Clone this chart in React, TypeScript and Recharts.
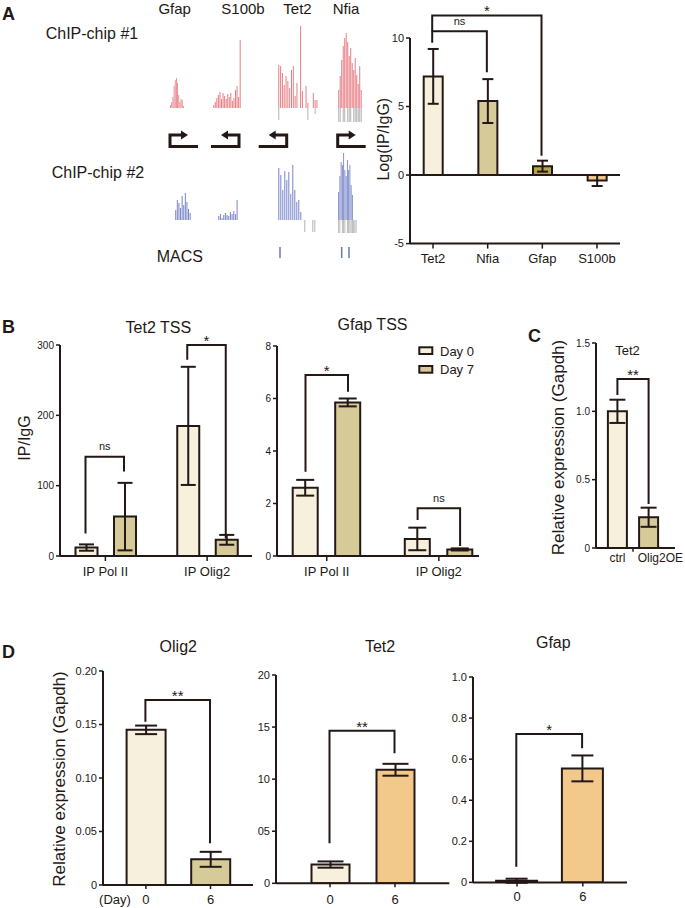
import React from "react";
import { BarChart, Bar, XAxis, YAxis, Cell, ErrorBar, ReferenceLine } from "recharts";

// ---- A: ChIP-chip enrichment ----
const chipGenes = ["Tet2", "Nfia", "Gfap", "S100b"];
const chipLogRatio = [7.2, 5.4, 0.65, -0.4];
const chipLogRatioErr = [2.0, 1.6, 0.4, 0.4];

// probe signal tracks (height units), grey = below-baseline probes
const chip1Gfap = [3, 6, 11, 22, 28, 30, 25, 13, 6, 9, 8, 2];
const chip1S100b = [3, 6, 10, 13, 16, 9, 15, 12, 9, 14, 11, 15, 7, 10, 18, 22, 11, 68];
const chip1Tet2 = [43, 42, 35, 23, 32, 27, 20, 38, 42, 12, 25, 0, 82, 17, 0, 22, 5, 0, 0, 15, 8, 8];
const chip1Tet2Grey = [12, 0, 0, 0, 0, 0, 0, 0, 0, 0, 0, 0, 0, 0, 0, 0, 12, 0, 0, 0, 6, 0];
const chip1Nfia = [18, 32, 48, 62, 70, 75, 66, 52, 60, 45, 38, 50, 33, 24, 42, 18];
const chip1NfiaGrey = [14, 14, 0, 14, 14, 0, 14, 14, 14, 0, 14, 14, 14, 14, 14, 14];
const chip2Gfap = [10, 20, 17, 12, 24, 15, 27, 18, 11, 7];
const chip2S100b = [4, 6, 2, 5, 7, 5, 4, 8, 6, 9, 6, 20];
const chip2Tet2 = [52, 45, 30, 49, 40, 48, 26, 55, 30, 18, 20, 8, 0, 0, 0, 0, 0, 0, 0, 0];
const chip2Tet2Grey = [0, 0, 0, 0, 0, 0, 0, 0, 0, 0, 0, 0, 0, 12, 0, 0, 0, 12, 12, 0];
const chip2Nfia = [28, 44, 58, 55, 67, 50, 44, 60, 50, 55, 35, 25, 0, 0, 0, 0];
const chip2NfiaGrey = [13, 13, 0, 13, 13, 13, 0, 13, 13, 13, 13, 13, 13, 13, 13, 0];

// ---- B: ChIP-qPCR ----
const tssSites = ["IP Pol II", "IP Olig2"];
const tet2TssDay0 = [12, 185];
const tet2TssDay0Err = [4.5, 84];
const tet2TssDay7 = [56, 23];
const tet2TssDay7Err = [48, 7];
const gfapTssDay0 = [2.6, 0.65];
const gfapTssDay0Err = [0.3, 0.43];
const gfapTssDay7 = [5.85, 0.25];
const gfapTssDay7Err = [0.15, 0.04];

// ---- C: Olig2 overexpression ----
const oeGroups = ["ctrl", "Olig2OE"];
const oeTet2 = [1.0, 0.225];
const oeTet2Err = [0.085, 0.07];

// ---- D: differentiation time course ----
const dayLabels = ["0", "6"];
const olig2Expr = [0.145, 0.024];
const olig2ExprErr = [0.004, 0.007];
const tet2Expr = [1.8, 10.9];
const tet2ExprErr = [0.3, 0.57];
const gfapExpr = [0.008, 0.555];
const gfapExprErr = [0.01, 0.063];

const INK = "#231815";
const CREAM = "#f6f0dd";
const KHAKI = "#d5ca98";
const OLIVE = "#b5a350";
const ORANGE = "#f3c98b";
const RED = "#dd4d55";
const BLUE = "#4355b3";
const GREY = "#b3b3b3";
const FONT = "Arial, 'Liberation Sans', Helvetica, sans-serif";

type Frame = {
  x0: number; x1: number; y0: number; y1: number;
  padL: number; padR: number; lo: number; hi: number;
  barSize: number; gap: number; series: number; n: number;
};

const fA: Frame = { x0: 410, x1: 620, y0: 37.7, y1: 243.3, padL: -4.3, padR: -4.3, lo: -5, hi: 10, barSize: 19, gap: 0, series: 1, n: 4 };
const fB1: Frame = { x0: 60, x1: 252, y0: 345, y1: 556, padL: -5.5, padR: -6, lo: 0, hi: 300, barSize: 22, gap: 16.5, series: 2, n: 2 };
const fB2: Frame = { x0: 277.3, x1: 479.3, y0: 346, y1: 556, padL: -6.3, padR: -15.9, lo: 0, hi: 8, barSize: 25, gap: 17.5, series: 2, n: 2 };
const fC: Frame = { x0: 596, x1: 675, y0: 342.7, y1: 547.7, padL: 5.9, padR: 10.7, lo: 0, hi: 1.5, barSize: 19, gap: 0, series: 1, n: 2 };
const fD1: Frame = { x0: 103.3, x1: 253.3, y0: 671, y1: 885, padL: 10.6, padR: 10.2, lo: 0, hi: 0.2, barSize: 39, gap: 0, series: 1, n: 2 };
const fD2: Frame = { x0: 276, x1: 449.3, y0: 675, y1: 883.3, padL: 21.5, padR: 21.8, lo: 0, hi: 20, barSize: 38, gap: 0, series: 1, n: 2 };
const fD3: Frame = { x0: 472.7, x1: 626.7, y0: 677.3, y1: 882.7, padL: 11.1, padR: 11.3, lo: 0, hi: 1, barSize: 41, gap: 0, series: 1, n: 2 };

const YW = 40, XH = 36, MT = 12, MR = 20;

// same band / value mapping recharts uses, for the annotation layer
function py(f: Frame, v: number) {
  return f.y1 - ((v - f.lo) / (f.hi - f.lo)) * (f.y1 - f.y0);
}
function px(f: Frame, i: number, k = 0) {
  const start = f.x0 + f.padL;
  const band = (f.x1 - f.padR - start) / f.n;
  const full = f.series * f.barSize + (f.series - 1) * f.gap;
  const off = Math.floor((band - full) / 2);
  return start + band * i + off + (f.barSize + f.gap) * k + f.barSize / 2;
}

type PlotProps = {
  f: Frame; data: any[]; ticks: number[]; fmt: (v: number) => string;
  tickFs: number; xFs: number; xTickSize: number; xTickMargin: number;
  xTick?: any; children: React.ReactNode;
};

function Plot({ f, data, ticks, fmt, tickFs, xFs, xTickSize, xTickMargin, xTick, children }: PlotProps) {
  const w = YW + (f.x1 - f.x0) + MR;
  const h = MT + (f.y1 - f.y0) + XH;
  return (
    <div style={{ position: "absolute", left: f.x0 - YW, top: f.y0 - MT }}>
      <BarChart width={w} height={h} data={data} margin={{ top: MT, right: MR, bottom: 0, left: 0 }}
        barSize={f.barSize} barGap={f.gap}>
        <XAxis dataKey="name" height={XH} interval={0} padding={{ left: f.padL, right: f.padR }}
          axisLine={{ stroke: INK, strokeWidth: 2 }}
          tickLine={xTickSize > 0 ? { stroke: INK, strokeWidth: 1.5 } : false}
          tickSize={xTickSize} tickMargin={xTickMargin}
          tick={xTick || { fill: INK, fontSize: xFs, fontFamily: FONT }} />
        <YAxis width={YW} type="number" domain={[f.lo, f.hi]} ticks={ticks} interval={0} allowDataOverflow
          tickFormatter={fmt} axisLine={{ stroke: INK, strokeWidth: 2 }}
          tickLine={{ stroke: INK, strokeWidth: 1.5 }} tickSize={4} tickMargin={2}
          tick={{ fill: INK, fontSize: tickFs, fontFamily: FONT }} />
        {children}
      </BarChart>
    </div>
  );
}

function Track({ x, base, w, up, down, vals, grey, color }: {
  x: number; base: number; w: number; up: number; down: number; vals: number[]; grey?: number[]; color: string;
}) {
  const data = vals.map((v, i) => ({ i, v, g: grey ? -grey[i] : 0 }));
  return (
    <div style={{ position: "absolute", left: x, top: base - up }}>
      <BarChart width={w} height={up + down} data={data} margin={{ top: 0, right: 0, bottom: 0, left: 0 }}
        barCategoryGap="15%" stackOffset="sign">
        <XAxis dataKey="i" hide />
        <YAxis hide domain={[-down, up]} allowDataOverflow />
        <Bar dataKey="v" stackId="s" fill={color} fillOpacity={0.72} isAnimationActive={false} />
        <Bar dataKey="g" stackId="s" fill={GREY} isAnimationActive={false} />
      </BarChart>
    </div>
  );
}

function Sig({ f, a, b, top, endA, endB, label }: {
  f: Frame; a: [number, number]; b: [number, number]; top: number; endA: number; endB: number; label: string;
}) {
  const xa = px(f, a[0], a[1]);
  const xb = px(f, b[0], b[1]);
  const yt = py(f, top);
  const ns = label === "ns";
  return (
    <g>
      <path d={`M${xa},${py(f, endA)} V${yt} H${xb} V${py(f, endB)}`} fill="none" stroke={INK} strokeWidth={2} />
      <text x={(xa + xb) / 2} y={ns ? yt - 6.5 : yt + 1} textAnchor="middle" fontSize={ns ? 11 : 15}
        fill={INK} fontFamily={FONT}>{label}</text>
    </g>
  );
}

function Tss({ x, dir }: { x: number; dir: 1 | -1 }) {
  // x = corner of the bent arrow, dir = transcription direction
  const top = 135, bot = 146.5;
  const tip = x + dir * 18;
  const far = x + dir * 28;
  return (
    <g>
      <path d={`M${far},${bot} H${x} V${top} H${tip - dir * 6}`} fill="none" stroke={INK} strokeWidth={3} />
      <path d={`M${tip - dir * 7},${top - 4.5} L${tip},${top} L${tip - dir * 7},${top + 4.5} Z`} fill={INK} />
    </g>
  );
}

const T = (p: { x: number; y: number; fs: number; anchor?: string; bold?: boolean; rot?: boolean; children: string }) =>
  p.rot ? (
    <text transform={`translate(${p.x},${p.y}) rotate(-90)`} x={0} y={p.fs * 0.35} textAnchor="middle"
      fontSize={p.fs} fill={INK} fontFamily={FONT}>{p.children}</text>
  ) : (
    <text x={p.x} y={p.y} textAnchor={(p.anchor as any) || "middle"} fontSize={p.fs}
      fontWeight={p.bold ? 700 : 400} fill={INK} fontFamily={FONT}>{p.children}</text>
  );

const fmtPlain = (v: number) => String(v);
const fmtFixed = (d: number) => (v: number) => (v === 0 ? "0" : v.toFixed(d));
const fmtPad = (v: number) => (v === 0 ? "0" : String(v).padStart(2, "0"));

// second label in C sits right of its bar, as in GraphPad output
const oeTick = (p: any) => (
  <text x={p.index === 1 ? p.x - 11 : p.x} y={p.y} dy="0.71em" textAnchor={p.index === 1 ? "start" : "middle"}
    fontSize={12} fill={INK} fontFamily={FONT}>{p.payload.value}</text>
);

export default function App() {
  const chipRows = chipGenes.map((name, i) => ({ name, v: chipLogRatio[i], e: chipLogRatioErr[i] }));
  const chipFills = [CREAM, KHAKI, OLIVE, ORANGE];
  const tet2Tss = tssSites.map((name, i) => ({
    name, d0: tet2TssDay0[i], e0: tet2TssDay0Err[i], d7: tet2TssDay7[i], e7: tet2TssDay7Err[i],
  }));
  const gfapTss = tssSites.map((name, i) => ({
    name, d0: gfapTssDay0[i], e0: gfapTssDay0Err[i], d7: gfapTssDay7[i], e7: gfapTssDay7Err[i],
  }));
  const oeRows = oeGroups.map((name, i) => ({ name, v: oeTet2[i], e: oeTet2Err[i] }));
  const olig2Rows = dayLabels.map((name, i) => ({ name, v: olig2Expr[i], e: olig2ExprErr[i] }));
  const tet2Rows = dayLabels.map((name, i) => ({ name, v: tet2Expr[i], e: tet2ExprErr[i] }));
  const gfapRows = dayLabels.map((name, i) => ({ name, v: gfapExpr[i], e: gfapExprErr[i] }));

  const barProps = { stroke: INK, strokeWidth: 2, isAnimationActive: false };
  const eb = (w: number, key = "e") => (
    <ErrorBar dataKey={key} width={w} stroke={INK} strokeWidth={2} direction="y" />
  );
  const cMid = (px(fC, 0) + px(fC, 1)) / 2;

  return (
    <div style={{ position: "absolute", left: 0, top: 0, width: 685, height: 908, background: "#fff", overflow: "hidden", fontFamily: FONT }}>
      {/* A: tracks */}
      <Track x={170} base={108.3} w={14} up={85} down={16} vals={chip1Gfap} color={RED} />
      <Track x={213} base={108.3} w={28} up={85} down={16} vals={chip1S100b} color={RED} />
      <Track x={278} base={108.3} w={40} up={85} down={16} vals={chip1Tet2} grey={chip1Tet2Grey} color={RED} />
      <Track x={338} base={108.3} w={24} up={85} down={16} vals={chip1Nfia} grey={chip1NfiaGrey} color={RED} />
      <Track x={175} base={220} w={16} up={70} down={14} vals={chip2Gfap} color={BLUE} />
      <Track x={218} base={220} w={20} up={70} down={14} vals={chip2S100b} color={BLUE} />
      <Track x={278} base={220} w={40} up={70} down={14} vals={chip2Tet2} grey={chip2Tet2Grey} color={BLUE} />
      <Track x={338} base={220} w={20} up={70} down={14} vals={chip2Nfia} grey={chip2NfiaGrey} color={BLUE} />

      {/* A: log ratio */}
      <Plot f={fA} data={chipRows} ticks={[-5, 0, 5, 10]} fmt={fmtPlain} tickFs={11} xFs={13} xTickSize={5} xTickMargin={5}>
        <ReferenceLine y={0} stroke={INK} strokeWidth={2} />
        <Bar dataKey="v" {...barProps}>
          {chipRows.map((r, i) => <Cell key={r.name} fill={chipFills[i]} />)}
          {eb(5.5)}
        </Bar>
      </Plot>

      {/* B */}
      <Plot f={fB1} data={tet2Tss} ticks={[0, 100, 200, 300]} fmt={fmtPlain} tickFs={10} xFs={13} xTickSize={5} xTickMargin={6}>
        <Bar dataKey="d0" fill={CREAM} {...barProps}>{eb(7.5, "e0")}</Bar>
        <Bar dataKey="d7" fill={KHAKI} {...barProps}>{eb(7.5, "e7")}</Bar>
      </Plot>
      <Plot f={fB2} data={gfapTss} ticks={[0, 2, 4, 6, 8]} fmt={fmtPlain} tickFs={10} xFs={13} xTickSize={5} xTickMargin={6}>
        <Bar dataKey="d0" fill={CREAM} {...barProps}>{eb(9, "e0")}</Bar>
        <Bar dataKey="d7" fill={KHAKI} {...barProps}>{eb(9, "e7")}</Bar>
      </Plot>

      {/* C */}
      <Plot f={fC} data={oeRows} ticks={[0, 0.5, 1, 1.5]} fmt={fmtFixed(1)} tickFs={10} xFs={12} xTickSize={0} xTickMargin={5} xTick={oeTick}>
        <Bar dataKey="v" {...barProps}>
          <Cell fill={CREAM} />
          <Cell fill={KHAKI} />
          {eb(8)}
        </Bar>
      </Plot>

      {/* D */}
      <Plot f={fD1} data={olig2Rows} ticks={[0, 0.05, 0.1, 0.15, 0.2]} fmt={fmtFixed(2)} tickFs={11} xFs={13} xTickSize={4} xTickMargin={6}>
        <Bar dataKey="v" {...barProps}>
          <Cell fill={CREAM} />
          <Cell fill={KHAKI} />
          {eb(11)}
        </Bar>
      </Plot>
      <Plot f={fD2} data={tet2Rows} ticks={[0, 5, 10, 15, 20]} fmt={fmtPad} tickFs={11} xFs={13} xTickSize={4} xTickMargin={7}>
        <Bar dataKey="v" {...barProps}>
          <Cell fill={CREAM} />
          <Cell fill={ORANGE} />
          {eb(13)}
        </Bar>
      </Plot>
      <Plot f={fD3} data={gfapRows} ticks={[0, 0.2, 0.4, 0.6, 0.8, 1]} fmt={fmtFixed(1)} tickFs={11} xFs={13} xTickSize={4} xTickMargin={5}>
        <Bar dataKey="v" {...barProps}>
          <Cell fill={CREAM} />
          <Cell fill={ORANGE} />
          {eb(11)}
        </Bar>
      </Plot>

      <svg width={685} height={908} style={{ position: "absolute", left: 0, top: 0, pointerEvents: "none" }}>
        {/* panel letters */}
        <T x={2} y={19.5} fs={18} anchor="start" bold>A</T>
        <T x={2} y={332.5} fs={18} anchor="start" bold>B</T>
        <T x={528} y={341.5} fs={18} anchor="start" bold>C</T>
        <T x={2} y={658} fs={18} anchor="start" bold>D</T>

        {/* A tracks labels */}
        <T x={174.7} y={14} fs={15}>Gfap</T>
        <T x={243} y={14} fs={15}>S100b</T>
        <T x={297.5} y={14} fs={15}>Tet2</T>
        <T x={346} y={14} fs={15}>Nfia</T>
        <T x={45.7} y={39} fs={16} anchor="start">ChIP-chip #1</T>
        <T x={51.7} y={178.3} fs={16} anchor="start">ChIP-chip #2</T>
        <T x={156.7} y={261.7} fs={16} anchor="start">MACS</T>
        <Tss x={170} dir={1} />
        <Tss x={239} dir={-1} />
        <Tss x={286.7} dir={-1} />
        <Tss x={337.7} dir={1} />
        {[280, 341.7, 349].map((x) => (
          <line key={x} x1={x} x2={x} y1={247} y2={258} stroke="#6675c8" strokeWidth={1.5} />
        ))}

        {/* A chart */}
        <T x={383.3} y={139.2} fs={16} rot>Log(IP/IgG)</T>
        <Sig f={fA} a={[0, 0]} b={[1, 0]} top={10.47} endA={9.63} endB={7.48} label="ns" />
        <Sig f={fA} a={[0, 0]} b={[2, 0]} top={11.62} endA={10.47} endB={1.39} label="*" />

        {/* B */}
        <T x={158.3} y={333.3} fs={16}>Tet2 TSS</T>
        <T x={372.5} y={330} fs={16}>Gfap TSS</T>
        <T x={24} y={438} fs={16} rot>IP/IgG</T>
        <Sig f={fB1} a={[0, 0]} b={[0, 1]} top={141} endA={32} endB={120} label="ns" />
        <Sig f={fB1} a={[1, 0]} b={[1, 1]} top={300} endA={279} endB={25} label="*" />
        <Sig f={fB2} a={[0, 0]} b={[0, 1]} top={6.9} endA={3.21} endB={6.26} label="*" />
        <Sig f={fB2} a={[1, 0]} b={[1, 1]} top={1.82} endA={1.37} endB={0.38} label="ns" />
        <rect x={419.3} y={347.3} width={13} height={6.7} fill={CREAM} stroke={INK} strokeWidth={2} />
        <rect x={419.3} y={366} width={13} height={6.7} fill={KHAKI} stroke={INK} strokeWidth={2} />
        <T x={440} y={355.7} fs={13} anchor="start">Day 0</T>
        <T x={440} y={374} fs={13} anchor="start">Day 7</T>

        {/* C */}
        <T x={627.5} y={355} fs={13}>Tet2</T>
        <T x={558} y={447.5} fs={17} rot>Relative expression (Gapdh)</T>
        <Sig f={fC} a={[0, 0]} b={[1, 0]} top={1.234} endA={1.117} endB={0.32} label="**" />
        <line x1={cMid} x2={cMid} y1={fC.y1} y2={fC.y1 + 4} stroke={INK} strokeWidth={1.5} />

        {/* D */}
        <T x={178.3} y={651.7} fs={16}>Olig2</T>
        <T x={380} y={651.7} fs={16}>Tet2</T>
        <T x={553.3} y={648.3} fs={16}>Gfap</T>
        <T x={59} y={779} fs={17} rot>Relative expression (Gapdh)</T>
        <T x={115} y={904} fs={13}>(Day)</T>
        <Sig f={fD1} a={[0, 0]} b={[1, 0]} top={0.1729} endA={0.1526} endB={0.039} label="**" />
        <Sig f={fD2} a={[0, 0]} b={[1, 0]} top={14.65} endA={3.84} endB={12.48} label="**" />
        <Sig f={fD3} a={[0, 0]} b={[1, 0]} top={0.724} endA={0.078} endB={0.654} label="*" />
      </svg>
    </div>
  );
}
